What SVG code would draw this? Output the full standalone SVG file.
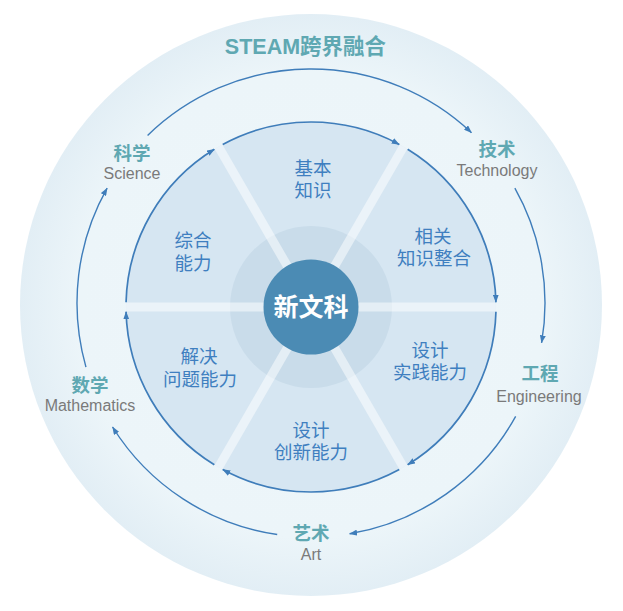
<svg xmlns="http://www.w3.org/2000/svg" width="623" height="611" viewBox="0 0 623 611">
<style>
.cn{font-family:"Liberation Sans","Noto Sans CJK SC",sans-serif;text-anchor:middle;dominant-baseline:central}
.sec{font-size:18.5px;fill:#3f7fc0}
.lab{font-size:18.5px;font-weight:bold;fill:#5fa8b2}
.en{font-family:"Liberation Sans","Noto Sans",sans-serif;font-size:16px;fill:#7a7a7a;text-anchor:middle;dominant-baseline:central}
.arc{fill:none;stroke:#3f7dba;marker-end:url(#ah)}
.in{stroke-width:1.7}
.out{stroke-width:1.4}
</style>
<defs>
<radialGradient id="bg" cx="311" cy="305" r="291" gradientUnits="userSpaceOnUse">
<stop offset="0" stop-color="#eef6fa"/>
<stop offset="0.8" stop-color="#ecf5f9"/>
<stop offset="1" stop-color="#e2eef5"/>
</radialGradient>
<clipPath id="disk"><circle cx="311" cy="307" r="185"/></clipPath>
<marker id="ah" viewBox="0 0 8 6" refX="7.5" refY="3" markerWidth="8" markerHeight="6" markerUnits="userSpaceOnUse" orient="auto">
<path d="M0,0 L8,3 L0,6 z" fill="#3f7dba"/>
</marker>
</defs>
<rect width="623" height="611" fill="#ffffff"/>
<g id="outer-disk">
<circle cx="311" cy="305" r="291" fill="url(#bg)"/>
</g>
<g id="sector-disk">
<circle cx="311" cy="307" r="185" fill="#d6e6f2"/>
<circle cx="311" cy="307" r="81" fill="#c9dcea"/>
<g clip-path="url(#disk)" stroke="#ffffff" stroke-opacity="0.5" stroke-width="9">
<line x1="120" y1="307" x2="502" y2="307"/>
<line x1="215.5" y1="141.6" x2="406.5" y2="472.4"/>
<line x1="406.5" y1="141.6" x2="215.5" y2="472.4"/>
</g>
</g>
<g id="core">
<circle cx="311" cy="307" r="47.5" fill="#4b8bb4"/>
<text class="cn" x="311" y="307" font-size="25" font-weight="bold" fill="#ffffff">新文科</text>
</g>
<g id="connectors">
<path class="arc in" d="M222.73,144.42 A185,185 0 0 1 399.27,144.42"/>
<path class="arc in" d="M407.66,149.26 A185,185 0 0 1 495.94,302.16"/>
<path class="arc in" d="M495.94,311.84 A185,185 0 0 1 407.66,464.74"/>
<path class="arc in" d="M399.27,469.58 A185,185 0 0 1 222.73,469.58"/>
<path class="arc in" d="M214.34,464.74 A185,185 0 0 1 126.06,311.84"/>
<path class="arc in" d="M126.06,302.16 A185,185 0 0 1 214.34,149.26"/>
<path class="arc out" d="M147.57,135.53 A234,234 0 0 1 471.48,132.69"/>
<path class="arc out" d="M514.86,188.13 A234,234 0 0 1 541.58,342.83"/>
<path class="arc out" d="M515.66,416.44 A234,234 0 0 1 349.62,533.80"/>
<path class="arc out" d="M277.21,534.55 A234,234 0 0 1 112.56,427.00"/>
<path class="arc out" d="M85.96,367.12 A234,234 0 0 1 107.14,188.13"/>
</g>
<g id="sector-basic">
<text class="cn sec" x="313" y="168">基本</text>
<text class="cn sec" x="313" y="190">知识</text>
</g>
<g id="sector-integrate">
<text class="cn sec" x="433" y="236">相关</text>
<text class="cn sec" x="434" y="258">知识整合</text>
</g>
<g id="sector-practice">
<text class="cn sec" x="430" y="350">设计</text>
<text class="cn sec" x="430" y="372">实践能力</text>
</g>
<g id="sector-innovate">
<text class="cn sec" x="311" y="430">设计</text>
<text class="cn sec" x="311" y="452">创新能力</text>
</g>
<g id="sector-solve">
<text class="cn sec" x="199" y="356">解决</text>
<text class="cn sec" x="200" y="379">问题能力</text>
</g>
<g id="sector-comprehensive">
<text class="cn sec" x="193" y="240">综合</text>
<text class="cn sec" x="193" y="263">能力</text>
</g>
<g id="title">
<text class="cn" x="305.5" y="47" font-size="21.5" font-weight="bold" fill="#5fa8b2">STEAM跨界融合</text>
</g>
<g id="label-technology">
<text class="cn lab" x="497" y="149">技术</text>
<text class="en" x="497" y="170">Technology</text>
</g>
<g id="label-engineering">
<text class="cn lab" x="540" y="373">工程</text>
<text class="en" x="539" y="396">Engineering</text>
</g>
<g id="label-art">
<text class="cn lab" x="311" y="533">艺术</text>
<text class="en" x="311" y="554">Art</text>
</g>
<g id="label-mathematics">
<text class="cn lab" x="90" y="385">数学</text>
<text class="en" x="90" y="405">Mathematics</text>
</g>
<g id="label-science">
<text class="cn lab" x="132" y="153">科学</text>
<text class="en" x="132" y="173">Science</text>
</g>
</svg>
